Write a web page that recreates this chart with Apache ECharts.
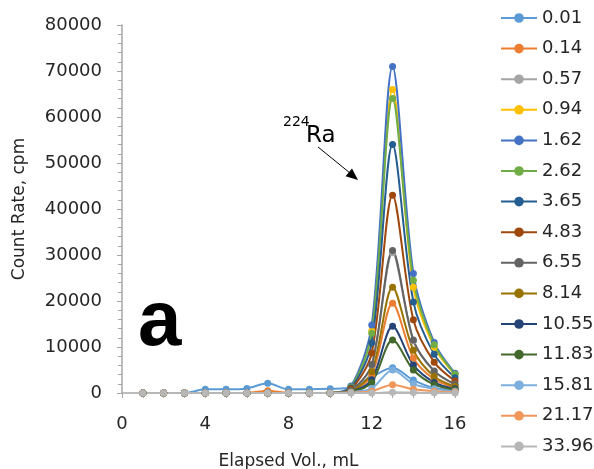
<!DOCTYPE html>
<html>
<head>
<meta charset="utf-8">
<script src="https://cdn.jsdelivr.net/npm/echarts@6/dist/echarts.min.js"></script>
<style>
  html, body { margin: 0; padding: 0; background: #fff; }
  #main { width: 594px; height: 469px; }
</style>
</head>
<body>
<div id="main"></div>
<script>
// elapsed volume, mL
const volume = [1, 2, 3, 4, 5, 6, 7, 8, 9, 10, 11, 12, 13, 14, 15, 16];
// legend names (elapsed time)
const names = ["0.01", "0.14", "0.57", "0.94", "1.62", "2.62", "3.65", "4.83",
  "6.55", "8.14", "10.55", "11.83", "15.81", "21.17", "33.96"];
const colorArr = ["#5B9BD5", "#ED7D31", "#A5A5A5", "#FFC000", "#4472C4", "#70AD47",
  "#255E91", "#9E480E", "#636363", "#997300", "#264478", "#43682B", "#7CAFDD", "#F1975A", "#B7B7B7"];

// count rate, cpm
const s001  = [0, 0, 0, 800, 800, 1000, 2100, 800, 800, 900, 1200, 3500, 5500, 2800, 1100, 600];
const s014  = [0, 0, 0, 0, 0, 0, 500, 0, 0, 0, 400, 3900, 19500, 7600, 3000, 1200];
const s057  = [0, 0, 0, 0, 0, 0, 0, 0, 0, 0, 600, 6000, 30500, 11300, 4700, 1800];
const s094  = [0, 0, 0, 0, 0, 0, 0, 0, 0, 0, 1300, 13500, 66000, 23000, 10000, 4000];
const s162  = [0, 0, 0, 0, 0, 0, 0, 0, 0, 0, 1500, 14800, 71000, 26000, 11000, 4300];
const s262  = [0, 0, 0, 0, 0, 0, 0, 0, 0, 0, 1300, 13000, 64000, 24500, 10500, 4100];
const s365  = [0, 0, 0, 0, 0, 0, 0, 0, 0, 0, 1100, 10900, 54000, 19800, 8400, 3300];
const s483  = [0, 0, 0, 0, 0, 0, 0, 0, 0, 0, 900, 8700, 43000, 15900, 6700, 2600];
const s655  = [0, 0, 0, 0, 0, 0, 0, 0, 0, 0, 600, 6200, 31000, 11500, 4800, 1900];
const s814  = [0, 0, 0, 0, 0, 0, 0, 0, 0, 0, 450, 4600, 23000, 9300, 3600, 1400];
const s1055 = [0, 0, 0, 0, 0, 0, 0, 0, 0, 0, 300, 2900, 14500, 6100, 2300, 900];
const s1183 = [0, 0, 0, 0, 0, 0, 0, 0, 0, 0, 250, 2300, 11500, 5000, 1800, 700];
const s1581 = [0, 0, 0, 0, 0, 0, 0, 0, 0, 0, 200, 1000, 5000, 2000, 900, 400];
const s2117 = [0, 0, 0, 0, 0, 0, 0, 0, 0, 0, 100, 400, 1800, 800, 400, 200];
const s3396 = [0, 0, 0, 0, 0, 0, 0, 0, 0, 0, 0, 0, 150, 100, 50, 0];
const allData = [s001, s014, s057, s094, s162, s262, s365, s483, s655, s814, s1055, s1183, s1581, s2117, s3396];

const yTicks = [0, 10000, 20000, 30000, 40000, 50000, 60000, 70000, 80000];
const xTicks = [0, 4, 8, 12, 16];

const fontFam = "DejaVu Sans";
const axisColor = "#A6A6A6";
const textColor = "#262626";

let chart = echarts.init(document.getElementById("main"));

let series = names.map(function (n, i) {
  return {
    name: n,
    type: "line",
    smooth: 0.3,
    symbol: "circle",
    symbolSize: 7,
    lineStyle: { width: 2 },
    data: volume.map(function (v, k) { return [v, allData[i][k]]; })
  };
});

let option = {
  animation: false,
  color: colorArr,
  textStyle: { fontFamily: fontFam },
  grid: { left: 122, right: 139, top: 25, bottom: 76, containLabel: false, outerBoundsMode: "none" },
  legend: {
    orient: "vertical",
    left: 500,
    top: 8,
    padding: 0,
    itemWidth: 36,
    itemHeight: 12,
    itemGap: 10.6,
    textStyle: { fontSize: 18, color: textColor, fontFamily: fontFam, lineHeight: 20 },
    data: names
  },
  xAxis: {
    type: "value",
    min: xTicks[0],
    max: xTicks[xTicks.length - 1],
    interval: 4,
    name: "Elapsed Vol., mL",
    nameLocation: "middle",
    nameGap: 60,
    nameTextStyle: { fontSize: 17, color: textColor, fontFamily: fontFam },
    axisLine: { lineStyle: { color: axisColor, width: 1.5 } },
    axisTick: { show: true, length: 5, lineStyle: { color: axisColor } },
    minorTick: { show: true, splitNumber: 4, length: 5, lineStyle: { color: axisColor } },
    splitLine: { show: false },
    axisLabel: { fontSize: 18, color: textColor, margin: 22 }
  },
  yAxis: {
    type: "value",
    min: yTicks[0],
    max: yTicks[yTicks.length - 1],
    interval: 10000,
    name: "Count Rate, cpm",
    nameLocation: "middle",
    nameGap: 94,
    nameTextStyle: { fontSize: 17, color: textColor, fontFamily: fontFam },
    axisLine: { show: true, lineStyle: { color: axisColor, width: 1.5 } },
    axisTick: { show: true, length: 5, lineStyle: { color: axisColor } },
    minorTick: { show: true, splitNumber: 5, length: 4, lineStyle: { color: axisColor } },
    splitLine: { show: false },
    axisLabel: { fontSize: 18, color: textColor, margin: 20, formatter: function (v) { return String(v); } }
  },
  graphic: [
    { type: "text", left: 283, top: 115, style: { text: "224", fontSize: 14, fill: "#000", fontFamily: fontFam } },
    { type: "text", left: 306, top: 125, style: { text: "Ra", fontSize: 23, fill: "#000", fontFamily: fontFam } },
    { type: "line", shape: { x1: 318, y1: 147, x2: 350, y2: 173 }, style: { stroke: "#000", lineWidth: 1 } },
    { type: "polygon", shape: { points: [[358, 180], [345.6, 176.2], [352, 168.5]] }, style: { fill: "#000" } },
    { type: "text", left: 138, top: 284, style: { text: "a", fontSize: 78, fontWeight: "bold", fill: "#000", fontFamily: "Liberation Sans" } }
  ],
  series: series
};

chart.setOption(option);
window.addEventListener("resize", chart.resize);
</script>
</body>
</html>
